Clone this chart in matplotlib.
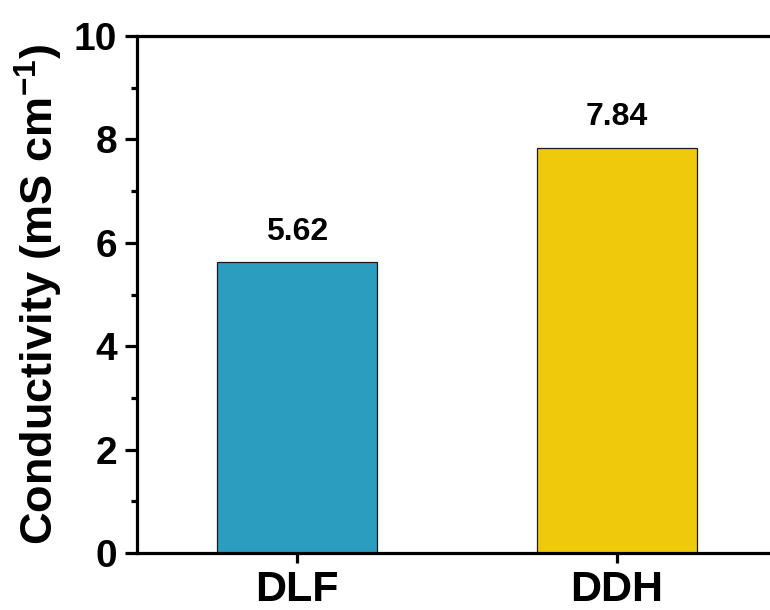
import matplotlib
matplotlib.use("Agg")
import matplotlib.pyplot as plt
from matplotlib.ticker import MultipleLocator

categories = ["DLF", "DDH"]
conductivity = [5.62, 7.84]
bar_colors = ["#2b9ebf", "#efc90c"]

plt.rcParams["font.family"] = ["Liberation Sans", "DejaVu Sans"]
plt.rcParams["font.weight"] = "bold"
plt.rcParams["mathtext.fontset"] = "custom"
plt.rcParams["mathtext.bf"] = "Liberation Sans:bold"
plt.rcParams["mathtext.rm"] = "Liberation Sans:bold"

fig = plt.figure(figsize=(7.7, 6.1), dpi=100)
ax = fig.add_axes([0.178, 0.0934, 0.831, 0.8475])

x = list(range(len(categories)))
ax.bar(x, conductivity, width=0.5, color=bar_colors,
       edgecolor="#1a1a1a", linewidth=0.9, zorder=2)

for xi, v in zip(x, conductivity):
    ax.text(xi, v + 0.3, f"{v:.2f}", ha="center", va="bottom",
            fontsize=23, fontweight="bold")

ax.set_xlim(-0.5, 1.5)
ax.set_ylim(0, 10)
ax.set_xticks(x)
ax.set_xticklabels(categories)
ax.yaxis.set_major_locator(MultipleLocator(2))
ax.yaxis.set_minor_locator(MultipleLocator(1))

ax.set_ylabel("Conductivity (mS cm$^{\\mathbf{-1}}$)", fontsize=32.5,
              fontweight="bold", labelpad=6)

for side in ["left", "bottom", "top", "right"]:
    ax.spines[side].set_linewidth(2.3)
ax.tick_params(axis="y", which="major", direction="out", length=8.5,
               width=2.3, labelsize=28, pad=6)
ax.tick_params(axis="x", which="major", direction="out", length=7,
               width=2.3, labelsize=31, pad=5)
ax.tick_params(axis="y", which="minor", direction="out", length=4.5, width=2.3)

fig.savefig("out.png", dpi=100)
